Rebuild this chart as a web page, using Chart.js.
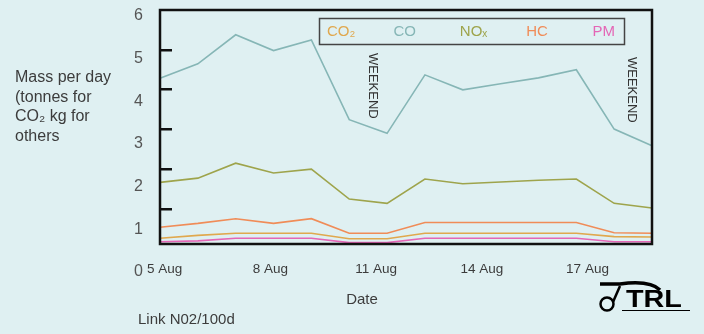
<!DOCTYPE html>
<html lang="en">
<head>
  <meta charset="UTF-8">
  <title>Mass per day - Link N02/100d</title>
  <script src="https://cdn.jsdelivr.net/npm/chart.js"></script>
  <style>
    html, body {
      margin: 0;
      padding: 0;
      background: #dff0f2;
    }
    .wrap {
      position: relative;
      width: 704px;
      height: 334px;
    }
  </style>
</head>
<body>
  <div class="wrap"><canvas id="massChart"></canvas></div>

  <script>
    // data
    const days = ['5 Aug', '6 Aug', '7 Aug', '8 Aug', '9 Aug', '10 Aug', '11 Aug',
                  '12 Aug', '13 Aug', '14 Aug', '15 Aug', '16 Aug', '17 Aug', '18 Aug'];
    const co2 = [0.79, 0.86, 0.91, 0.91, 0.91, 0.78, 0.78, 0.91, 0.91, 0.91, 0.91, 0.91, 0.83, 0.82];
    const co  = [4.54, 4.88, 5.56, 5.19, 5.44, 3.57, 3.25, 4.62, 4.27, 4.41, 4.55, 4.74, 3.35, 2.96];
    const nox = [2.10, 2.20, 2.55, 2.32, 2.41, 1.71, 1.61, 2.18, 2.07, 2.11, 2.15, 2.18, 1.61, 1.50];
    const hc  = [1.05, 1.14, 1.25, 1.14, 1.25, 0.91, 0.91, 1.16, 1.16, 1.16, 1.16, 1.16, 0.92, 0.91];
    const pm  = [0.71, 0.73, 0.79, 0.79, 0.79, 0.69, 0.69, 0.79, 0.79, 0.79, 0.79, 0.79, 0.71, 0.71];

    const yLabelValues = [0, 1, 2, 3, 4, 5, 6];
    const yMarkValues = [1, 2, 3, 4, 5];
    const xLabelDays = [5, 8, 11, 14, 17];

    const seriesNames = ['CO\u2082', 'CO', 'NO\u2093', 'HC', 'PM'];
    const seriesColors = ['#e0a84e', '#86b6b6', '#9ea44c', '#f08c58', '#e466b6'];
    const seriesData = [co2, co, nox, hc, pm];

    const textColor = '#3c3c3c';
    const fontFamily = '"Liberation Sans", Arial, sans-serif';
    Chart.defaults.font.family = fontFamily;

    // the label axes must not push the plot area around
    const noPad = s => {
      s.paddingTop = 0;
      s.paddingBottom = 0;
      s.paddingLeft = 0;
      s.paddingRight = 0;
    };

    const decor = {
      id: 'decor',
      afterDatasetsDraw(chart) {
        const { ctx, chartArea: a } = chart;
        ctx.save();
        ctx.strokeStyle = '#111';
        ctx.lineWidth = 2.5;
        ctx.strokeRect(a.left, a.top, a.right - a.left, a.bottom - a.top);

        // legend box inside the plot
        ctx.lineWidth = 1.5;
        ctx.strokeStyle = '#444';
        ctx.strokeRect(319.5, 18.5, 305, 26);
        ctx.font = '15px ' + fontFamily;
        ctx.textBaseline = 'middle';
        ctx.textAlign = 'left';
        chart.data.datasets.forEach((ds, i) => {
          ctx.fillStyle = ds.borderColor;
          ctx.fillText(ds.label, 327 + i * 66.4, 32);
        });

        // weekend notes
        ctx.fillStyle = '#333';
        ctx.font = '13px ' + fontFamily;
        [[373, 53], [632, 57]].forEach(([x, y]) => {
          ctx.save();
          ctx.translate(x, y);
          ctx.rotate(Math.PI / 2);
          ctx.textAlign = 'left';
          ctx.textBaseline = 'middle';
          ctx.fillText('WEEKEND', 0, 0);
          ctx.restore();
        });
        ctx.restore();
      },
      afterDraw(chart) {
        const { ctx } = chart;
        ctx.save();
        ctx.fillStyle = textColor;
        ctx.textBaseline = 'middle';
        ctx.textAlign = 'left';
        ctx.font = '16px ' + fontFamily;
        ['Mass per day', '(tonnes for', 'CO\u2082 kg for', 'others'].forEach((t, i) => {
          ctx.fillText(t, 15, 78 + i * 19.5);
        });
        ctx.font = '15px ' + fontFamily;
        ctx.textAlign = 'center';
        ctx.fillText('Date', 362, 300);
        ctx.textAlign = 'left';
        ctx.fillText('Link N02/100d', 138, 320);

        // TRL logo, rough
        ctx.strokeStyle = '#000';
        ctx.fillStyle = '#000';
        ctx.lineWidth = 3.5;
        ctx.beginPath();
        ctx.moveTo(600, 284);
        ctx.lineTo(620, 284);
        ctx.quadraticCurveTo(650, 280, 660, 290);
        ctx.stroke();
        ctx.lineWidth = 2.5;
        ctx.beginPath();
        ctx.arc(607, 304, 6.5, 0, Math.PI * 2);
        ctx.stroke();
        ctx.beginPath();
        ctx.moveTo(613, 302);
        ctx.lineTo(620, 286);
        ctx.stroke();
        ctx.save();
        ctx.translate(626, 307);
        ctx.scale(1.25, 1);
        ctx.font = 'bold 23px ' + fontFamily;
        ctx.textBaseline = 'alphabetic';
        ctx.fillText('TRL', 0, 0);
        ctx.restore();
        ctx.lineWidth = 1;
        ctx.beginPath();
        ctx.moveTo(622, 310.5);
        ctx.lineTo(690, 310.5);
        ctx.stroke();
        ctx.restore();
      }
    };

    new Chart(document.getElementById('massChart'), {
      type: 'line',
      data: {
        labels: days,
        datasets: seriesNames.map((name, i) => ({
          label: name,
          data: seriesData[i],
          borderColor: seriesColors[i],
          backgroundColor: seriesColors[i],
          borderWidth: 1.6,
          pointRadius: 0,
          tension: 0,
          fill: false
        }))
      },
      options: {
        responsive: true,
        maintainAspectRatio: false,
        animation: false,
        layout: { padding: { top: 10, right: 52, left: 0, bottom: 0 } },
        plugins: {
          legend: { display: false },
          tooltip: { enabled: false }
        },
        scales: {
          x: {
            type: 'category',
            display: false
          },
          xl: {
            type: 'linear',
            position: 'bottom',
            weight: 1,
            min: 4.87,
            max: 18.83,
            grid: { display: false, drawTicks: false },
            border: { display: false },
            afterBuildTicks: s => { s.ticks = xLabelDays.map(v => ({ value: v })); },
            afterFit: s => { s.height = 90; noPad(s); },
            ticks: {
              autoSkip: false,
              maxRotation: 0,
              padding: 17,
              color: textColor,
              font: { size: 13.5 },
              callback: v => v + ' Aug'
            }
          },
          y: {
            type: 'linear',
            position: 'left',
            weight: 1,
            min: 0.657,
            max: 6.14,
            grid: { display: false, drawTicks: false },
            border: { display: false },
            afterBuildTicks: s => { s.ticks = yLabelValues.map(v => ({ value: v })); },
            afterFit: s => { s.width = 160; noPad(s); },
            ticks: {
              autoSkip: false,
              padding: 17,
              color: '#555',
              font: { size: 16 }
            }
          },
          yt: {
            type: 'linear',
            position: 'left',
            weight: 0,
            min: 0.12,
            max: 6,
            grid: {
              display: true,
              drawOnChartArea: false,
              drawTicks: true,
              tickLength: -12,
              color: '#111',
              lineWidth: 2.5
            },
            border: { display: false },
            afterBuildTicks: s => { s.ticks = yMarkValues.map(v => ({ value: v })); },
            afterFit: s => { s.width = 0; noPad(s); },
            ticks: { display: false }
          }
        }
      },
      plugins: [decor]
    });
  </script>
</body>
</html>
